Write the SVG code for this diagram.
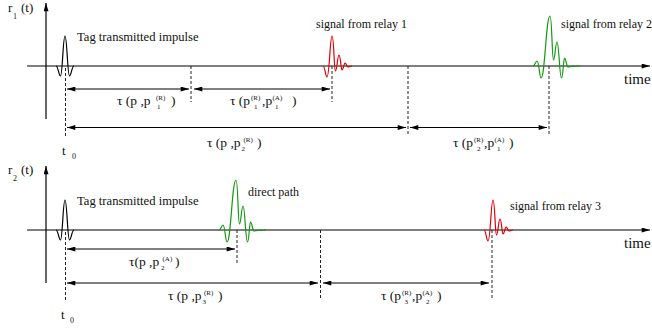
<svg xmlns="http://www.w3.org/2000/svg" width="652" height="329" viewBox="0 0 652 329">
<style>
text{font-family:"Liberation Serif","Times New Roman",serif;fill:#111}
.lbl{font-size:12px}
.m{font-size:13.5px}
.s{font-size:7px}
.ax{stroke:#000;stroke-width:1.2;fill:none}
.dim{stroke:#000;stroke-width:1;fill:none;marker-start:url(#ah);marker-end:url(#ah)}
.dash{stroke:#222;stroke-width:1;stroke-dasharray:3,2;fill:none}
.w{fill:none;stroke-width:1.2}
.blk{stroke:#000}
.red{stroke:#dd0000}
.grn{stroke:#119911}
</style>
<defs>
<marker id="ah" viewBox="0 0 10 6" refX="10" refY="3" markerWidth="9" markerHeight="5" markerUnits="userSpaceOnUse" orient="auto-start-reverse"><path d="M0,0 L10,3 L0,6 z" fill="#000"/></marker>
<marker id="axh" viewBox="0 0 10 6" refX="10" refY="3" markerWidth="9" markerHeight="5" markerUnits="userSpaceOnUse" orient="auto"><path d="M0,0 L10,3 L0,6 z" fill="#000"/></marker>
<path id="tagw" d="M56,66 C58,66 59,76 60.5,76 C62.5,76 63,36 65,36 C67,36 67.5,76 69.5,76 C71,76 72,66 74,66"/>
<path id="relr" d="M323,66 C325,66 325.5,77 327,77 C329.5,77 330,36 332,36 C334,36 334,71 335.5,71 C337,71 337.5,55 339,55 C340.5,55 341,70 342,70 C343.5,70 344,63 345,63 C346.5,63 346.5,67 348,67 C349.5,67 350,66 352,66"/>
<path id="relg" d="M533,66 C535,66 535.5,61 537,61 C539,61 539.5,78 541,78 C545,78 546,16 550,16 C552,16 552,60 553.5,60 C555,60 555.5,42 557,42 C559,42 559.5,78 561.5,78 C563,78 563.5,58 564.5,58 C566,58 566.5,67 568,67 C570,67 571,66 580,66"/>
</defs>

<g id="panel1-axes">
<line class="ax" x1="46" y1="119" x2="46" y2="3" marker-end="url(#axh)"/>
<line class="ax" x1="27" y1="66" x2="650" y2="66" marker-end="url(#axh)"/>
<text x="8" y="12" style="font-size:13px">r</text><text x="13" y="19" style="font-size:8px">1</text><text x="21" y="12" style="font-size:13px">(t)</text>
<text x="624" y="84" style="font-size:15px">time</text>
</g>

<g id="panel2-axes">
<line class="ax" x1="46" y1="283" x2="46" y2="166" marker-end="url(#axh)"/>
<line class="ax" x1="27" y1="230" x2="650" y2="230" marker-end="url(#axh)"/>
<text x="8" y="174" style="font-size:13px">r</text><text x="13" y="181" style="font-size:8px">2</text><text x="21" y="174" style="font-size:13px">(t)</text>
<text x="624" y="248" style="font-size:15px">time</text>
</g>

<g id="tag1">
<use href="#tagw" class="w blk"/>
<text class="lbl" x="77" y="41" style="font-size:12.6px">Tag transmitted impulse</text>
</g>
<g id="relay1">
<use href="#relr" class="w red"/>
<text class="lbl" x="316" y="28">signal from relay 1</text>
</g>
<g id="relay2">
<use href="#relg" class="w grn"/>
<text class="lbl" x="561" y="28">signal from relay 2</text>
</g>

<g id="tag2">
<use href="#tagw" class="w blk" transform="translate(0,164)"/>
<text class="lbl" x="77" y="205" style="font-size:12.6px">Tag transmitted impulse</text>
</g>
<g id="direct">
<use href="#relg" class="w grn" transform="translate(-314,164)"/>
<text class="lbl" x="248" y="196">direct path</text>
</g>
<g id="relay3">
<use href="#relr" class="w red" transform="translate(161,164)"/>
<text class="lbl" x="510" y="210">signal from relay 3</text>
</g>

<g id="t0-top"><text x="62" y="155" style="font-size:13px">t</text><text x="72" y="159" style="font-size:8px">0</text></g>
<g id="t0-bottom"><text x="61" y="319" style="font-size:13px">t</text><text x="70" y="323" style="font-size:8px">0</text></g>

<g id="connectors">
<line class="dash" x1="65.5" y1="68" x2="65.5" y2="138"/>
<line class="dash" x1="191" y1="66" x2="191" y2="102"/>
<line class="dash" x1="332" y1="66" x2="332" y2="102"/>
<line class="dash" x1="408" y1="66" x2="408" y2="136"/>
<line class="dash" x1="549" y1="66" x2="549" y2="136"/>
<line class="dim" x1="67" y1="89" x2="189" y2="89"/>
<line class="dim" x1="194" y1="89" x2="330" y2="89"/>
<line class="dim" x1="67" y1="127.5" x2="406" y2="127.5"/>
<line class="dim" x1="410" y1="127.5" x2="547" y2="127.5"/>

<line class="dash" x1="65.5" y1="232" x2="65.5" y2="300"/>
<line class="dash" x1="237" y1="230" x2="237" y2="263"/>
<line class="dash" x1="320.5" y1="230" x2="320.5" y2="300"/>
<line class="dash" x1="492" y1="230" x2="492" y2="300"/>
<line class="dim" x1="67" y1="249" x2="235" y2="249"/>
<line class="dim" x1="67" y1="283" x2="318" y2="283"/>
<line class="dim" x1="323" y1="283" x2="489" y2="283"/>
</g>

<g id="labels">
<g id="l1">
<text class="m" x="117" y="105">τ (p ,p</text><text class="s" x="156" y="99.5">(R)</text><text class="s" x="157" y="108.8">1</text><text class="m" x="171" y="105">)</text>
</g>
<g id="l2">
<text class="m" x="230" y="105">τ (p</text><text class="s" x="251" y="99.5">(R)</text><text class="s" x="254" y="108.8">1</text><text class="m" x="262" y="105">,p</text><text class="s" x="272.5" y="99.5">(A)</text><text class="s" x="275" y="108.8">1</text><text class="m" x="292" y="105">)</text>
</g>
<g id="l3">
<text class="m" x="207" y="147">τ (p ,p</text><text class="s" x="241.5" y="151">2</text><text class="s" x="243.5" y="141.8">(R)</text><text class="m" x="257" y="147">)</text>
</g>
<g id="l4">
<text class="m" x="453" y="147">τ (p</text><text class="s" x="474" y="141.8">(R)</text><text class="s" x="477" y="151">2</text><text class="m" x="484" y="147">,p</text><text class="s" x="494.5" y="141.8">(A)</text><text class="s" x="497" y="151">1</text><text class="m" x="509" y="147">)</text>
</g>
<g id="l5">
<text class="m" x="129" y="266">τ(p ,p</text><text class="s" x="161" y="270">2</text><text class="s" x="162.5" y="260.8">(A)</text><text class="m" x="175" y="266">)</text>
</g>
<g id="l6">
<text class="m" x="168" y="300">τ (p ,p</text><text class="s" x="202.5" y="304">3</text><text class="s" x="204" y="294.8">(R)</text><text class="m" x="218" y="300">)</text>
</g>
<g id="l7">
<text class="m" x="381" y="300">τ (p</text><text class="s" x="402" y="294.8">(R)</text><text class="s" x="404.5" y="304">3</text><text class="m" x="412" y="300">,p</text><text class="s" x="422.5" y="294.8">(A)</text><text class="s" x="426" y="304">2</text><text class="m" x="437" y="300">)</text>
</g>
</g>
</svg>
